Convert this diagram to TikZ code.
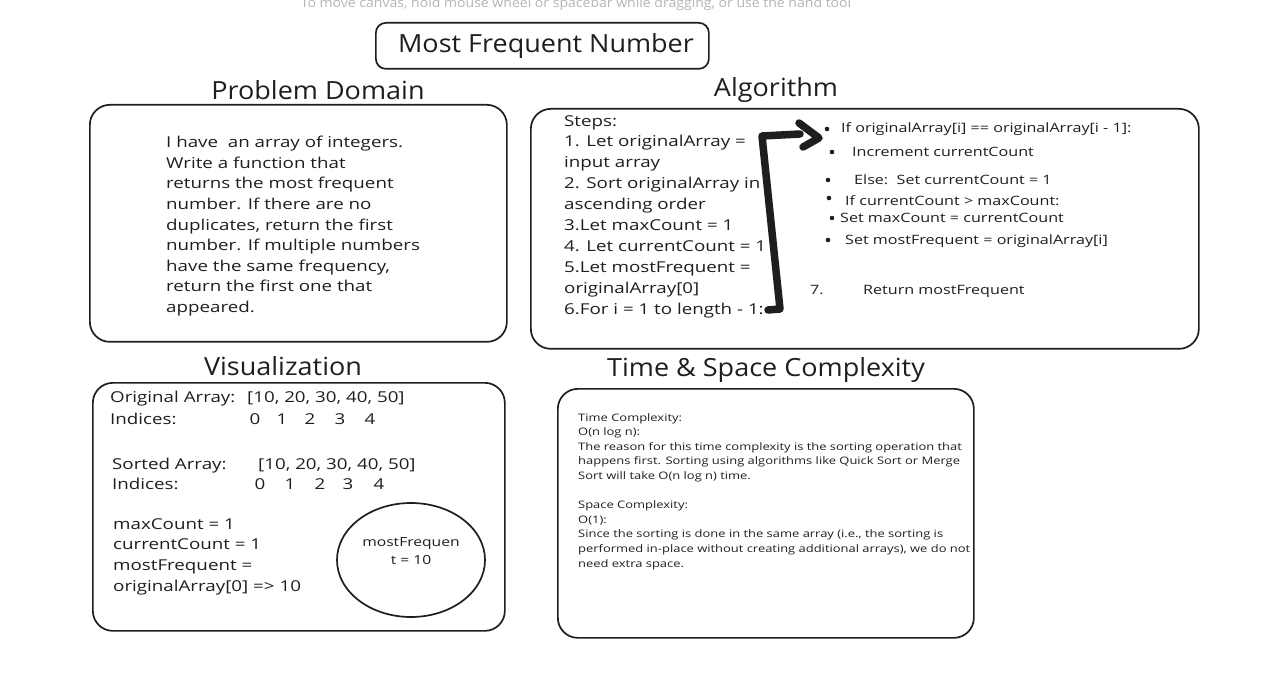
\documentclass[tikz,border=0pt]{standalone}
\usepackage{fontspec}
\setmainfont{Open Sans}
\newfontfamily\hand[FakeStretch=1.25]{Open Sans}
\newfontfamily\handhd[FakeStretch=1.08]{Open Sans}
\newfontfamily\uifont[FakeStretch=1.08]{Open Sans}
\definecolor{ink}{HTML}{1E1E1E}
\definecolor{hint}{HTML}{B4B4B4}
\begin{document}
\begin{tikzpicture}[x=1pt,y=-1pt,
  box/.style={draw=ink, line width=1.7pt, rounded corners=20pt, anchor=north west, inner sep=0pt},
  hd/.style={font=\handhd\fontsize{25}{28}\selectfont, text=ink, anchor=base},
  body/.style={font=\hand\fontsize{15}{20.9}\selectfont, text=ink, anchor=north west, align=left, inner sep=0pt},
  small/.style={font=\hand\fontsize{12.9}{15}\selectfont, text=ink, anchor=base west, inner sep=0pt},
  tiny/.style={font=\hand\fontsize{10.35}{14.6}\selectfont, text=ink, anchor=north west, align=left, inner sep=0pt},
  dot/.style={circle, fill=ink, inner sep=0pt, minimum size=4.6pt},
  bracket/.style={draw=ink, line width=7.5pt, line join=round, line cap=round}
]
\useasboundingbox (0,0) rectangle (1272,676);

% hint text
\node[font=\uifont\fontsize{13}{15}\selectfont, text=hint, anchor=base] (hint) at (576,8)
  {To move canvas, hold mouse wheel or spacebar while dragging, or use the hand tool};

% title
\node[draw=ink, line width=1.7pt, rounded corners=10pt, anchor=north west, inner sep=0pt,
  minimum width=333pt, minimum height=46pt] (titlebox) at (375,22) {};
\node[font=\handhd\fontsize{25}{28}\selectfont, text=ink] (title) at (546,46) {Most Frequent Number};

% headings
\node[hd] (hpd) at (318,100) {Problem Domain};
\node[hd] (halg) at (776,97) {Algorithm};
\node[hd] (hvis) at (283,375) {Visualization};
\node[hd] (htsc) at (766,376) {Time \& Space Complexity};

% boxes
\node[box, minimum width=417pt, minimum height=237pt] (pdbox) at (89,104) {};
\node[box, minimum width=668pt, minimum height=240pt] (algbox) at (530,108) {};
\node[box, minimum width=412pt, minimum height=248pt] (visbox) at (92,382) {};
\node[box, minimum width=416pt, minimum height=249pt] (tscbox) at (557,388) {};

% problem domain text
\node[body, font=\hand\fontsize{15}{20.6}\selectfont] (pdtext) at (166,136) {I have \ an array of integers.\\
Write a function that\\
returns the most frequent\\
number. If there are no\\
duplicates, return the first\\
number. If multiple numbers\\
have the same frequency,\\
return the first one that\\
appeared.};

% algorithm steps
\node[body] (steps) at (564,115) {Steps:\\
1. Let originalArray =\\
input array\\
2. Sort originalArray in\\
ascending order\\
3.Let maxCount = 1\\
4. Let currentCount = 1\\
5.Let mostFrequent =\\
originalArray[0]\\
6.For i = 1 to length - 1:};

% loop body bullets
\node[dot] (d1) at (827,129) {};
\node[small] (b1) at (841,133) {If originalArray[i] == originalArray[i - 1]:};
\node[dot] (d2) at (832,152) {};
\node[small] (b2) at (852,157) {Increment currentCount};
\node[dot] (d3) at (828,180) {};
\node[small] (b3) at (854,185) {Else:\ \ Set currentCount = 1};
\node[dot] (d4) at (829,198) {};
\node[small] (b4) at (845,206) {If currentCount > maxCount:};
\node[dot] (d5) at (832,218) {};
\node[small] (b5) at (840,223) {Set maxCount = currentCount};
\node[dot] (d6) at (828,240) {};
\node[small] (b6) at (845,245) {Set mostFrequent = originalArray[i]};
\node[small] (s7) at (810,295) {7.};
\node[small] (b7) at (863,295) {Return mostFrequent};

% bracket arrow from step 6 to the loop body
\coordinate (a0) at (768,310);
\coordinate (a1) at (780,309);
\coordinate (a2) at (762,136);
\coordinate (a3) at (800,134);
\draw[bracket] (a0) -- (a1) -- (a2) -- (a3);
\draw[bracket] (799,123) -- (819,138) -- (803,147);

% visualization
\node[body, anchor=base west] (oa) at (110,402) {Original Array:};
\node[body, anchor=base west] (oav) at (247,402) {[10, 20, 30, 40, 50]};
\node[body, anchor=base west] (oi) at (110,424) {Indices:};
\node[body, anchor=base] (oi0) at (255,424) {0};
\node[body, anchor=base] (oi1) at (282,424) {1};
\node[body, anchor=base] (oi2) at (310,424) {2};
\node[body, anchor=base] (oi3) at (340,424) {3};
\node[body, anchor=base] (oi4) at (370,424) {4};
\node[body, anchor=base west] (sa) at (112,469) {Sorted Array:};
\node[body, anchor=base west] (sav) at (258,469) {[10, 20, 30, 40, 50]};
\node[body, anchor=base west] (si) at (112,489) {Indices:};
\node[body, anchor=base] (si0) at (260,489) {0};
\node[body, anchor=base] (si1) at (290,489) {1};
\node[body, anchor=base] (si2) at (320,489) {2};
\node[body, anchor=base] (si3) at (348,489) {3};
\node[body, anchor=base] (si4) at (379,489) {4};
\node[body] (vars) at (113,518) {maxCount = 1\\
currentCount = 1\\
mostFrequent =\\
originalArray[0] => 10};
\draw[draw=ink, line width=1.7pt] (411,560) ellipse [x radius=74, y radius=57];
\node[font=\hand\fontsize{12.5}{18}\selectfont, text=ink, align=center] (mf) at (411,551) {mostFrequen\\t = 10};

% time & space complexity
\node[tiny] (tsc) at (578,413) {Time Complexity:\\
O(n log n):\\
The reason for this time complexity is the sorting operation that\\
happens first. Sorting using algorithms like Quick Sort or Merge\\
Sort will take O(n log n) time.\\[14.6pt]
Space Complexity:\\
O(1):\\
Since the sorting is done in the same array (i.e., the sorting is\\
performed in-place without creating additional arrays), we do not\\
need extra space.};
\end{tikzpicture}
\end{document}
